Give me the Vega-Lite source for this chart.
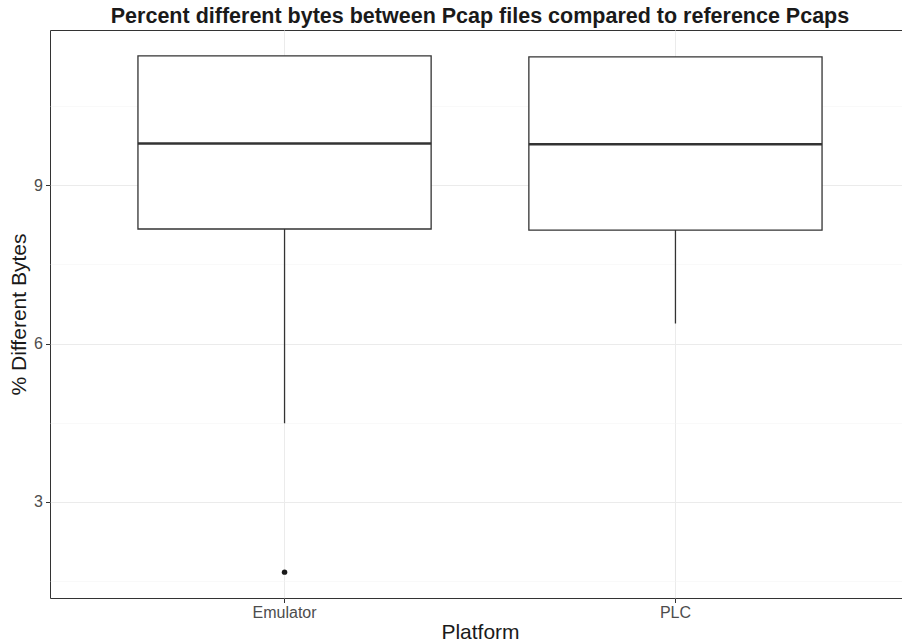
{
  "$schema": "https://vega.github.io/schema/vega-lite/v6.json",
  "autosize": {"type": "none"},
  "width": 860,
  "height": 568,
  "padding": {"left": 50, "top": 30, "right": 0, "bottom": 46},
  "background": "white",
  "title": {
    "text": "Percent different bytes between Pcap files compared to reference Pcaps",
    "font": "Liberation Sans",
    "fontSize": 21.5,
    "fontWeight": "bold",
    "color": "#1A1A1A",
    "anchor": "middle",
    "offset": 3
  },
  "config": {
    "view": {"stroke": "#333333", "strokeWidth": 1},
    "font": "Liberation Sans",
    "axis": {
      "domain": false,
      "gridColor": "#EBEBEB",
      "gridWidth": 1,
      "tickColor": "#333333",
      "tickSize": 4.5,
      "tickWidth": 1,
      "labelColor": "#4D4D4D",
      "labelFont": "Liberation Sans",
      "labelFontSize": 16,
      "titleFont": "Liberation Sans",
      "titleFontSize": 21,
      "titleFontWeight": "normal",
      "titleColor": "#1A1A1A"
    }
  },
  "datasets": {
    "boxes": [
      {"Platform": "Emulator", "lower": 4.49, "q1": 8.17, "median": 9.79, "q3": 11.45, "upper": 11.45},
      {"Platform": "PLC", "lower": 6.38, "q1": 8.15, "median": 9.775, "q3": 11.43, "upper": 11.43}
    ],
    "outliers": [
      {"Platform": "Emulator", "value": 1.67}
    ]
  },
  "layer": [
    {
      "data": {"name": "boxes"},
      "mark": {"type": "rule", "color": "#333333", "strokeWidth": 1.3},
      "encoding": {
        "x": {
          "field": "Platform", "type": "nominal",
          "scale": {"paddingInner": 0.25, "paddingOuter": 0.225},
          "axis": {"title": "Platform", "labelAngle": 0, "labelPadding": 2, "titlePadding": 1, "grid": true}
        },
        "y": {
          "field": "lower", "type": "quantitative",
          "scale": {"domain": [1.18, 11.94], "nice": false, "zero": false},
          "axis": {
            "title": "% Different Bytes",
            "values": [1.5, 3, 4.5, 6, 7.5, 9, 10.5],
            "labelExpr": "datum.value % 3 === 0 ? datum.label : ''",
            "tickOpacity": {"condition": {"test": "datum.value % 3 === 0", "value": 1}, "value": 0},
            "gridWidth": {"condition": {"test": "datum.value % 3 === 0", "value": 1}, "value": 0.5},
            "gridColor": {"condition": {"test": "datum.value % 3 === 0", "value": "#EBEBEB"}, "value": "#F2F2F2"},
            "labelPadding": 3,
            "titlePadding": 4
          }
        },
        "y2": {"field": "q1"}
      }
    },
    {
      "data": {"name": "boxes"},
      "mark": {"type": "rule", "color": "#333333", "strokeWidth": 1.3},
      "encoding": {
        "x": {"field": "Platform", "type": "nominal"},
        "y": {"field": "q3", "type": "quantitative"},
        "y2": {"field": "upper"}
      }
    },
    {
      "data": {"name": "boxes"},
      "mark": {"type": "rect", "fill": "white", "stroke": "#333333", "strokeWidth": 1.3},
      "encoding": {
        "x": {"field": "Platform", "type": "nominal"},
        "y": {"field": "q1", "type": "quantitative"},
        "y2": {"field": "q3"}
      }
    },
    {
      "data": {"name": "boxes"},
      "mark": {"type": "rect", "fill": "white", "stroke": "#333333", "strokeWidth": 2.4},
      "encoding": {
        "x": {"field": "Platform", "type": "nominal"},
        "y": {"field": "median", "type": "quantitative"},
        "y2": {"field": "median"}
      }
    },
    {
      "data": {"name": "outliers"},
      "mark": {"type": "point", "filled": true, "color": "#1A1A1A", "size": 30, "opacity": 1},
      "encoding": {
        "x": {"field": "Platform", "type": "nominal"},
        "y": {"field": "value", "type": "quantitative"}
      }
    }
  ]
}
